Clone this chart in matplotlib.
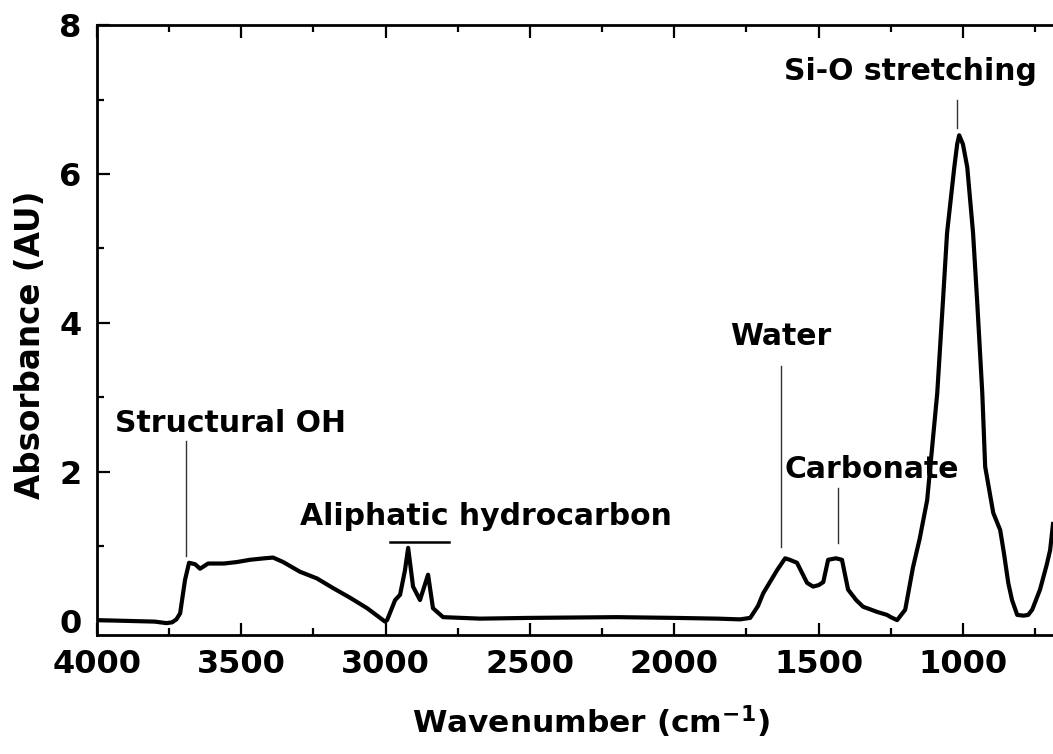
import matplotlib
matplotlib.use('Agg')
from matplotlib import pyplot as plt
from matplotlib.ticker import MultipleLocator

plt.rcParams['font.family'] = ['DejaVu Sans']
plt.rcParams['font.weight'] = 'bold'
plt.rcParams['mathtext.fontset'] = 'custom'
plt.rcParams['mathtext.rm'] = 'DejaVu Sans:bold'
plt.rcParams['mathtext.bf'] = 'DejaVu Sans:bold'

# spectrum (wavenumber in cm-1, absorbance)
wavenumber = [4000, 3900, 3800, 3760, 3740, 3725, 3712, 3695, 3681, 3660, 3643, 3615,
              3560, 3515, 3470, 3420, 3390, 3355, 3297, 3238, 3182, 3123, 3064,
              3002, 2995, 2967, 2950, 2933, 2922, 2905, 2881, 2853, 2836, 2801,
              2673, 2500, 2200, 2000, 1850, 1772, 1737, 1710, 1692, 1644, 1616,
              1600, 1575, 1540, 1519, 1500, 1484, 1467, 1440, 1419, 1398, 1370,
              1346, 1297, 1280, 1263, 1250, 1228, 1200, 1173, 1150, 1124, 1105,
              1089, 1069, 1055, 1030, 1020, 1013, 1000, 985, 965, 951, 933, 923,
              895, 871, 858, 843, 830, 812, 790, 774, 760, 733, 710, 698, 688]
absorbance = [0.01, 0.0, -0.01, -0.03, -0.02, 0.02, 0.1, 0.55, 0.78, 0.76, 0.70, 0.77,
              0.77, 0.79, 0.82, 0.84, 0.85, 0.79, 0.66, 0.57, 0.44, 0.31, 0.17,
              -0.01, 0.01, 0.28, 0.35, 0.68, 0.98, 0.46, 0.28, 0.62, 0.17, 0.05,
              0.03, 0.04, 0.05, 0.04, 0.03, 0.02, 0.04, 0.2, 0.37, 0.68, 0.84,
              0.82, 0.78, 0.51, 0.46, 0.48, 0.52, 0.82, 0.84, 0.82, 0.42, 0.28,
              0.19, 0.12, 0.10, 0.08, 0.05, 0.01, 0.15, 0.72, 1.1, 1.62, 2.4,
              3.06, 4.31, 5.21, 6.09, 6.40, 6.52, 6.40, 6.09, 5.21, 4.31, 3.06, 2.07,
              1.45, 1.22, 0.91, 0.51, 0.28, 0.08, 0.07, 0.08, 0.15, 0.42, 0.75, 0.95, 1.3]

x_ticks = [4000, 3500, 3000, 2500, 2000, 1500, 1000]
y_ticks = [0, 2, 4, 6, 8]

# band labels and their marker lines
band_labels = ['Structural OH', 'Aliphatic hydrocarbon', 'Water', 'Carbonate', 'Si-O stretching']
label_x = [3539, 2652, 1630, 1315, 1183]
label_y = [2.54, 1.29, 3.70, 1.92, 7.26]
marker_x = [3692, 1630, 1432, 1020]
marker_lo = [0.87, 0.99, 1.05, 6.62]
marker_hi = [2.42, 3.42, 1.79, 7.00]
aliphatic_span = [2985, 2780]
aliphatic_level = 1.06

fig = plt.figure(figsize=(10.53, 7.54), dpi=100)
ax = fig.add_axes([0.0921, 0.1578, 0.9079, 0.809])

ax.plot(wavenumber, absorbance, color='black', lw=3.0, solid_joinstyle='round')

for i in range(len(marker_x)):
    ax.plot([marker_x[i], marker_x[i]], [marker_lo[i], marker_hi[i]],
            color='#333333', lw=1.0)
ax.plot(aliphatic_span, [aliphatic_level, aliphatic_level], color='black', lw=1.8)

for i in range(len(band_labels)):
    ax.text(label_x[i], label_y[i], band_labels[i], ha='center', va='baseline',
            fontsize=21.5, fontweight='bold')

ax.set_xlim(4000, 688)
ax.set_ylim(-0.19, 8)
ax.set_xticks(x_ticks)
ax.set_yticks(y_ticks)
ax.xaxis.set_minor_locator(MultipleLocator(250))
ax.yaxis.set_minor_locator(MultipleLocator(1))

ax.spines['right'].set_visible(False)
for s in ['left', 'bottom', 'top']:
    ax.spines[s].set_linewidth(2.0)

ax.tick_params(which='both', direction='in', top=True, right=False, width=1.6,
               labelsize=23)
ax.tick_params(which='major', length=9)
ax.tick_params(which='minor', length=5)
ax.tick_params(axis='x', pad=10)
ax.tick_params(axis='y', pad=11)

ax.set_xlabel('Wavenumber (cm$^{-1}$)', fontsize=22.5, fontweight='bold')
ax.set_ylabel('Absorbance (AU)', fontsize=23.5, fontweight='bold')
ax.xaxis.set_label_coords(0.517, -0.112)
ax.yaxis.set_label_coords(-0.052, 0.475)

fig.savefig('out.png', dpi=100)
